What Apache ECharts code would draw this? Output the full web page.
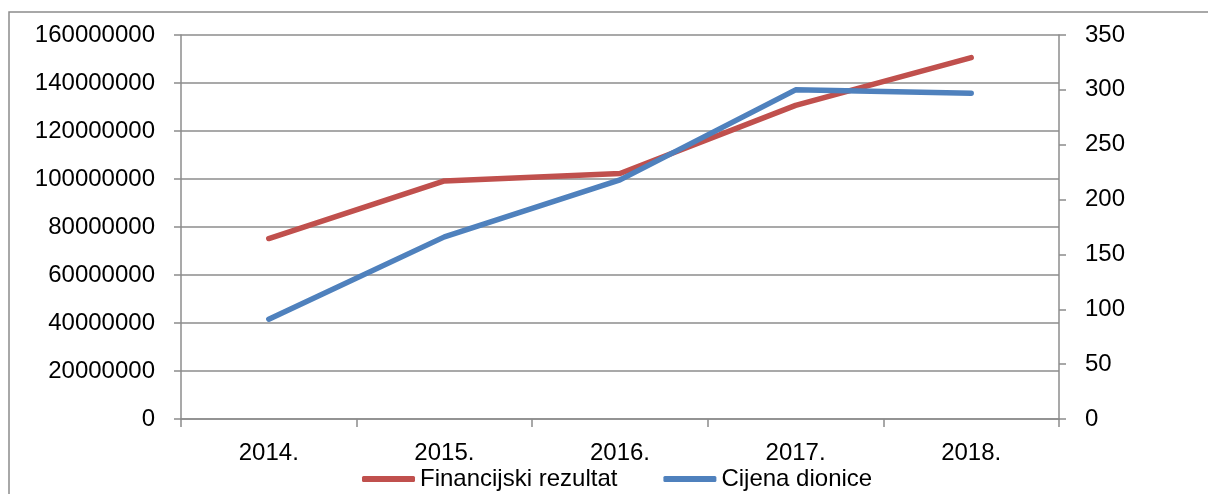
<!DOCTYPE html>
<html><head><meta charset="utf-8">
<script src="https://cdn.jsdelivr.net/npm/echarts@6/dist/echarts.min.js"></script>
<style>html,body{margin:0;padding:0;background:#fff}#c{width:1208px;height:494px}</style>
</head><body><div id="c"></div>
<script>
const categories = ['2014.', '2015.', '2016.', '2017.', '2018.'];
const financijskiRezultat = [75200000, 99200000, 102300000, 130700000, 150600000];
const cijenaDionice = [91, 166, 218, 300, 297];
const seriesNames = ['Financijski rezultat', 'Cijena dionice'];

const FONT = 'Liberation Sans';
const FS = 24;
const chart = echarts.init(document.getElementById('c'), null, {renderer: 'canvas'});
const axisCommon = {
  axisLine: {show: true, lineStyle: {color: '#8c8c8c', width: 1.5}},
  axisTick: {show: true, length: 7, lineStyle: {color: '#8c8c8c', width: 1.5}},
  axisLabel: {color: '#000', fontFamily: FONT, fontSize: FS, margin: 26, formatter: v => String(v)}
};
chart.setOption({
  animation: false,
  textStyle: {fontFamily: FONT},
  graphic: [{type: 'rect', shape: {x: 9, y: 12, width: 1210, height: 500}, style: {fill: 'none', stroke: '#8c8c8c', lineWidth: 1.5}}],
  grid: {left: 181, right: 149, top: 35, bottom: 75},
  legend: {
    left: 362, top: 467, padding: 0, itemWidth: 53, itemHeight: 6, itemGap: 46,
    icon: 'roundRect',
    textStyle: {fontFamily: FONT, fontSize: FS, color: '#000'},
    data: seriesNames
  },
  xAxis: {
    type: 'category', data: categories, boundaryGap: true,
    axisLine: axisCommon.axisLine,
    axisTick: {show: true, length: 8, lineStyle: {color: '#8c8c8c', width: 1.5}},
    axisLabel: {color: '#000', fontFamily: FONT, fontSize: FS, margin: 22},
    splitLine: {show: false}
  },
  yAxis: [
    Object.assign({type: 'value', min: 0, max: 160000000, interval: 20000000,
      splitLine: {show: true, lineStyle: {color: '#8c8c8c', width: 1.5}}}, axisCommon),
    Object.assign({type: 'value', min: 0, max: 350, interval: 50, position: 'right',
      splitLine: {show: false}}, axisCommon)
  ],
  series: [
    {name: seriesNames[0], type: 'line', data: financijskiRezultat, yAxisIndex: 0,
      symbol: 'none', lineStyle: {width: 5.5, color: '#c0504d', cap: 'round', join: 'round'}, itemStyle: {color: '#c0504d'}},
    {name: seriesNames[1], type: 'line', data: cijenaDionice, yAxisIndex: 1,
      symbol: 'none', lineStyle: {width: 5.5, color: '#4f81bd', cap: 'round', join: 'round'}, itemStyle: {color: '#4f81bd'}}
  ]
});
</script></body></html>
